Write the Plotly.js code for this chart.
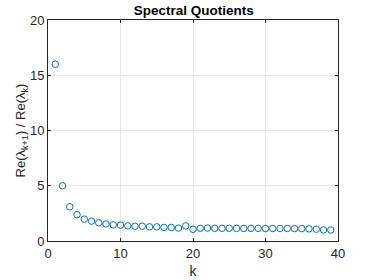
<!DOCTYPE html>
<html><head><meta charset="utf-8">
<script src="https://cdn.plot.ly/plotly-3.0.1.min.js"></script>
<style>body{margin:0;padding:0;background:#fff}#plot{width:374px;height:280px}</style>
</head><body><div id="plot"></div>
<script>
const k = [];
for (let i = 1; i <= 39; i++) k.push(i);
const quotient = [16.0, 5.0, 3.1, 2.38, 1.98, 1.8, 1.65, 1.54, 1.46, 1.43, 1.37, 1.34, 1.34, 1.28, 1.28, 1.23, 1.23, 1.17, 1.37, 1.06, 1.15, 1.17, 1.15, 1.15, 1.15, 1.14, 1.14, 1.14, 1.14, 1.13, 1.13, 1.13, 1.13, 1.12, 1.12, 1.1, 1.07, 1.0, 1.0];
const xTicks = [0, 10, 20, 30, 40];
const yTicks = [0, 5, 10, 15, 20];
const fam = 'Liberation Sans, Arial, sans-serif';
Plotly.newPlot('plot', [{
  x: k, y: quotient, type: 'scatter', mode: 'markers',
  marker: {symbol: 'circle-open', size: 6.5, color: '#0072BD', line: {width: 1, color: '#0072BD'}}
}], {
  width: 374, height: 280,
  margin: {l: 48, r: 36, t: 20, b: 39},
  paper_bgcolor: '#fff', plot_bgcolor: '#fff',
  font: {family: fam, size: 13, color: '#262626'},
  showlegend: false,
  title: {text: '<b>Spectral Quotients</b>', x: 0.518, xanchor: 'center', y: 0.962, yanchor: 'middle', font: {family: fam, size: 13.5, color: '#000'}},
  xaxis: {range: [0, 40], tickvals: xTicks, ticks: 'inside', ticklen: 3, tickcolor: '#262626',
    tickfont: {size: 13}, showline: true, linecolor: '#262626', linewidth: 1, mirror: 'ticks',
    showgrid: true, gridcolor: '#e6e6e6', zeroline: false,
    title: {text: 'k', standoff: 6, font: {size: 14, color: '#262626'}}},
  yaxis: {range: [0, 20], tickvals: yTicks, ticks: 'inside', ticklen: 3, tickcolor: '#262626',
    tickfont: {size: 13}, showline: true, linecolor: '#262626', linewidth: 1, mirror: 'ticks',
    showgrid: true, gridcolor: '#e6e6e6', zeroline: false,
    title: {text: 'Re(λ<sub>k+1</sub>) / Re(λ<sub>k</sub>)', standoff: 0, font: {size: 13, color: '#262626'}}}
}, {displayModeBar: false, staticPlot: true});
</script></body></html>
